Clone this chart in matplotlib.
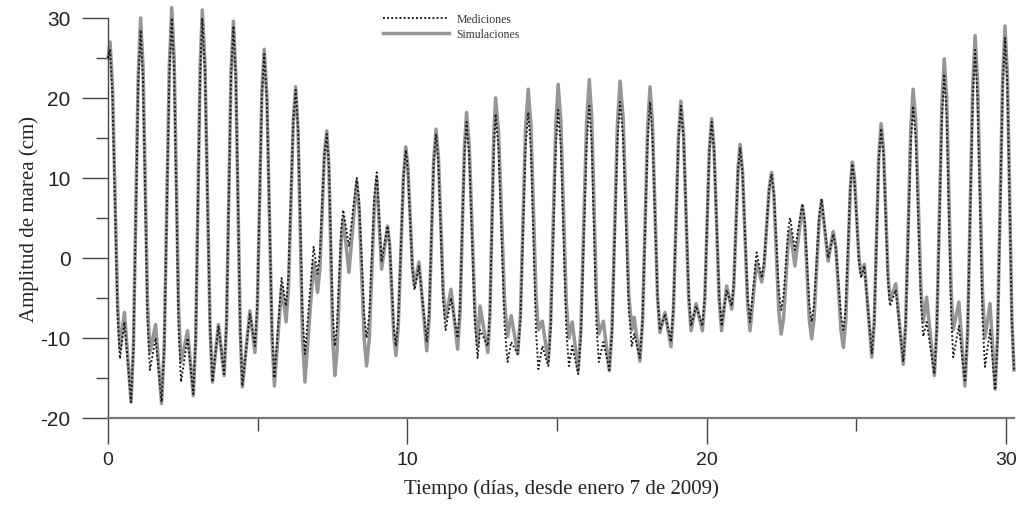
import matplotlib
matplotlib.use("Agg")
import matplotlib.pyplot as plt
from matplotlib.ticker import MultipleLocator

plt.rcParams["axes.unicode_minus"] = False

# time (days since 7 Jan 2009) of the points
t_days = [
    0.00, 0.07, 0.15, 0.32, 0.40, 0.55, 0.77, 0.85, 1.01, 1.09,
    1.17, 1.32, 1.40, 1.59, 1.79, 1.88, 2.05, 2.13, 2.21, 2.36,
    2.44, 2.66, 2.85, 2.93, 3.08, 3.15, 3.24, 3.41, 3.49, 3.69,
    3.88, 3.96, 4.11, 4.19, 4.27, 4.42, 4.49, 4.74, 4.91, 4.99,
    5.14, 5.22, 5.31, 5.48, 5.56, 5.80, 5.95, 6.03, 6.19, 6.27,
    6.35, 6.50, 6.58, 6.87, 7.00, 7.08, 7.23, 7.31, 7.38, 7.51,
    7.58, 7.65, 7.79, 7.86, 8.05, 8.31, 8.39, 8.56, 8.64, 8.73,
    8.90, 8.98, 9.14, 9.34, 9.41, 9.55, 9.62, 9.70, 9.87, 9.95,
    10.02, 10.17, 10.24, 10.39, 10.65, 10.73, 10.88, 10.96, 11.04, 11.20,
    11.28, 11.46, 11.68, 11.76, 11.91, 11.98, 12.07, 12.26, 12.35, 12.43,
    12.69, 12.76, 12.89, 12.95, 13.05, 13.25, 13.35, 13.47, 13.69, 13.78,
    13.95, 14.04, 14.13, 14.30, 14.38, 14.51, 14.71, 14.79, 14.96, 15.04,
    15.13, 15.31, 15.40, 15.51, 15.71, 15.80, 15.99, 16.08, 16.16, 16.32,
    16.40, 16.55, 16.75, 16.84, 17.02, 17.11, 17.21, 17.40, 17.50, 17.58,
    17.77, 17.86, 18.03, 18.11, 18.19, 18.36, 18.44, 18.61, 18.81, 18.89,
    19.06, 19.14, 19.23, 19.40, 19.48, 19.65, 19.86, 19.94, 20.09, 20.17,
    20.25, 20.42, 20.50, 20.67, 20.84, 20.91, 21.05, 21.12, 21.20, 21.37,
    21.45, 21.67, 21.84, 21.92, 22.09, 22.17, 22.25, 22.41, 22.49, 22.57,
    22.72, 22.79, 22.95, 23.20, 23.28, 23.43, 23.51, 23.59, 23.76, 23.84,
    24.06, 24.23, 24.32, 24.49, 24.57, 24.65, 24.80, 24.87, 24.94, 25.09,
    25.16, 25.27, 25.52, 25.60, 25.75, 25.83, 25.91, 26.06, 26.13, 26.32,
    26.57, 26.65, 26.82, 26.90, 26.99, 27.16, 27.24, 27.35, 27.61, 27.69,
    27.86, 27.94, 28.02, 28.17, 28.24, 28.43, 28.63, 28.72, 28.89, 28.97,
    29.05, 29.22, 29.30, 29.47, 29.64, 29.72, 29.89, 29.97, 30.05, 30.20,
    30.27]

# simulated tide amplitude (cm)
simulaciones = [
    25, 27, 21.4, -5.8, -11.4, -6.8, -18, -11.0, 23.0, 30,
    23.9, -5.7, -11.8, -8.3, -18.2, -11.0, 24.1, 31.3, 24.8, -6.5,
    -13, -9.1, -17.2, -10.2, 24.0, 31, 24.2, -8.7, -15.5, -8.3,
    -14.7, -8.2, 23.1, 29.6, 22.9, -9.4, -16.1, -6.6, -11.8, -6.3,
    20.6, 26.1, 20.0, -9.9, -16, -3.5, -8, -3.7, 17.1, 21.4,
    16.0, -10.1, -15.5, -0.5, -4.3, -1.4, 13.0, 15.9, 11.4, -10.2,
    -14.7, -11.8, 2.0, 4.9, -1.8, 9.6, 6.2, -10.1, -13.5, -10.1,
    6.6, 10, -1.4, 4, 1.6, -9.8, -12.2, -8.4, 10.1, 13.9,
    11.4, -1.0, -3.5, -0.5, -11.6, -7.6, 12.1, 16.1, 12.6, -4.1,
    -7.6, -3.9, -11.4, -7.1, 13.9, 18.2, 13.9, -6.7, -11, -6,
    -11.8, -7.2, 15.4, 20, 15.6, -5.4, -9.8, -7.2, -12, -7.2,
    16.3, 21.1, 16.7, -4.6, -9, -7.9, -13, -7.9, 16.6, 21.7,
    17.1, -5.4, -10, -8, -14.1, -8.8, 17.0, 22.3, 17.7, -4.9,
    -9.5, -7.9, -14.1, -8.8, 16.8, 22.1, 17.6, -4.5, -9, -7.4,
    -12.9, -7.9, 16.4, 21.4, 16.9, -4.8, -9.3, -6.8, -11.1, -6.6,
    15.1, 19.6, 15.4, -4.9, -9.1, -5.7, -9.1, -5.2, 13.5, 17.4,
    13.5, -5.2, -9.1, -3.5, -6.4, -3.4, 11.2, 14.2, 10.8, -5.7,
    -9.1, -0.5, -3, -1.0, 8.7, 10.7, 7.8, -6.6, -9.5, -7.6,
    1.6, 3.5, -1, 6.5, 4.1, -7.7, -10.1, -7.6, 4.7, 7.2,
    -0.4, 3.3, 1.2, -9.1, -11.2, -7.8, 8.6, 12, 10.0, 0.0,
    -2, -0.8, -12.4, -8.1, 12.5, 16.8, 13.6, -2.1, -5.3, -3.2,
    -13.3, -8.3, 16.1, 21.1, 16.9, -3.8, -8, -4.9, -14.7, -8.9,
    19.1, 24.9, 20.0, -4.1, -9, -5.5, -16, -9.6, 21.4, 27.8,
    22.3, -4.5, -10, -5.7, -16.4, -9.8, 22.4, 29, 22.7, -7.7,
    -14]

# measured tide amplitude (cm)
mediciones = [
    25, 26, 20.4, -7.0, -12.6, -8, -18, -11.2, 21.7, 28.5,
    22.3, -7.8, -14, -10, -18, -11.0, 23.0, 30, 23.4, -8.9,
    -15.5, -10, -17, -10.1, 23.1, 30, 23.4, -8.9, -15.5, -8.5,
    -14.5, -8.1, 22.6, 29, 22.4, -9.4, -16, -7, -11, -5.7,
    20.2, 25.5, 19.6, -9.1, -15, -2.5, -6, -2.1, 17.1, 21,
    16.2, -7.2, -12, 1.4, -2, 0.6, 12.9, 15.5, 11.6, -7.1,
    -11, -8.5, 3.5, 6, 1.5, 10, 7.1, -7.1, -10, -7.0,
    7.7, 10.7, -0.5, 4, 1.8, -8.8, -11, -7.4, 9.9, 13.5,
    10.9, -1.4, -4, -1, -10.5, -6.7, 11.7, 15.5, 11.9, -5.4,
    -9, -5, -10, -6.1, 13.1, 17, 12.7, -8.2, -12.5, -9,
    -11, -6.8, 13.8, 18, 13.5, -8.5, -13, -10.5, -12, -7.6,
    13.8, 18.2, 13.5, -9.2, -13.9, -11, -13.5, -8.8, 13.8, 18.5,
    13.8, -8.8, -13.5, -11, -14.5, -9.6, 14.1, 19, 14.3, -8.3,
    -13, -10.5, -14, -9.1, 14.6, 19.5, 15.0, -6.5, -11, -9.5,
    -12.5, -7.8, 14.8, 19.5, 15.3, -4.8, -9, -7, -10.5, -6.2,
    14.7, 19, 15.0, -4.5, -8.5, -6, -8.5, -4.8, 13.3, 17,
    13.3, -4.8, -8.5, -4, -6, -3.1, 10.9, 13.8, 10.6, -4.8,
    -8, 0.7, -2.5, -0.6, 8.6, 10.5, 8.0, -4.0, -6.5, -4.8,
    3.3, 5, 1, 6.8, 4.6, -5.8, -8, -5.8, 5.2, 7.4,
    0, 3, 1.2, -7.2, -9, -6.0, 8.8, 11.8, 9.7, -0.4,
    -2.5, -1, -12, -7.9, 12.1, 16.2, 13.0, -2.8, -6, -4,
    -13, -8.3, 14.3, 19, 14.8, -5.6, -9.8, -8, -14.5, -9.0,
    17.5, 23, 17.8, -7.2, -12.4, -8.5, -15.5, -9.4, 19.9, 26,
    20.2, -7.8, -13.6, -9, -16.5, -10.1, 21.1, 27.5, 21.4, -7.9,
    -14]

x_ticks = [0, 10, 20, 30]
y_ticks = [-20, -10, 0, 10, 20, 30]

fig = plt.figure(figsize=(10.16, 5.06), dpi=100)
ax = fig.add_axes([108 / 1016, 87 / 506, 906 / 1016, 400 / 506])

ax.plot(t_days, simulaciones, color="#969696", lw=2.5, solid_joinstyle="round",
        label="Simulaciones", clip_on=False, zorder=2)
ax.plot(t_days, mediciones, color="#151515", lw=1.35, linestyle=(0, (1, 1.2)),
        label="Mediciones", clip_on=False, zorder=3)

ax.set_xlim(0, 30.27)
ax.set_ylim(-20, 30)
ax.set_xticks(x_ticks)
ax.set_yticks(y_ticks)
ax.xaxis.set_minor_locator(MultipleLocator(5))
ax.yaxis.set_minor_locator(MultipleLocator(5))

for s in ("top", "right"):
    ax.spines[s].set_visible(False)
ax.spines["left"].set_color("#444444")
ax.spines["bottom"].set_color("#777777")
ax.spines["left"].set_linewidth(1.0)
ax.spines["bottom"].set_linewidth(1.6)

ax.tick_params(axis="both", which="major", direction="out", length=19,
               width=1.0, color="#444444", labelcolor="#222222")
ax.tick_params(axis="both", which="minor", direction="out", length=9,
               width=1.0, color="#444444")
ax.tick_params(axis="y", which="major", pad=8)
ax.tick_params(axis="x", which="major", pad=5)
for lab in ax.get_yticklabels():
    lab.set_fontfamily(["Liberation Sans", "DejaVu Sans"])
    lab.set_fontsize(15)
for lab in ax.get_xticklabels():
    lab.set_fontfamily(["Liberation Sans", "DejaVu Sans"])
    lab.set_fontsize(14)

serif = ["Liberation Serif", "DejaVu Serif"]
ax.set_xlabel("Tiempo (días, desde enero 7 de 2009)", fontfamily=serif,
              fontsize=15, color="#222222", labelpad=7)
ax.set_ylabel("Amplitud de marea (cm)", fontfamily=serif, fontsize=15,
              color="#222222", labelpad=1)

handles, labels = ax.get_legend_handles_labels()
leg = ax.legend(handles[::-1], labels[::-1], loc="upper left",
                bbox_to_anchor=(383 / 1016, 1 - 14 / 506),
                bbox_transform=fig.transFigure, frameon=False,
                prop=dict(family=serif, size=8.5), handlelength=5.6,
                handletextpad=0.6, labelspacing=0.25, borderaxespad=0,
                borderpad=0)
for txt in leg.get_texts():
    txt.set_color("#333333")

fig.savefig("out.png", dpi=100)
